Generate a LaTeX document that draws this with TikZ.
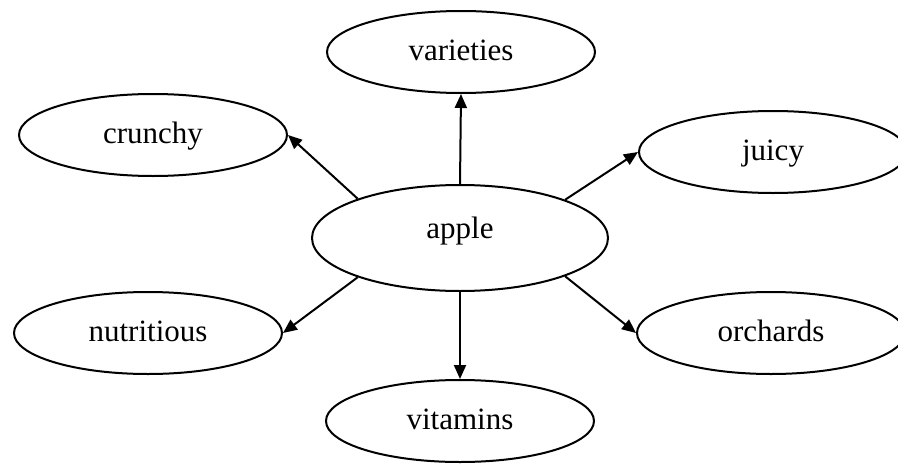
\documentclass[tikz,border=0pt]{standalone}
\usepackage{fontspec}
\setmainfont{Liberation Serif}
\usetikzlibrary{shapes.geometric,arrows.meta}
\begin{document}
\begin{tikzpicture}[x=1pt,y=-1pt,
  bub/.style={draw,ellipse,line width=2pt,minimum width=268pt,minimum height=82pt,inner sep=0pt,text height=22pt,text depth=6pt,font=\fontsize{31}{37}\selectfont},
  arr/.style={line width=2pt,-{Triangle[length=14pt,width=12pt]}}]
\useasboundingbox (0,0) rectangle (898,466);
\clip (0,0) rectangle (898,466);
\node[bub,minimum width=296pt,minimum height=106pt,text height=12pt,text depth=12pt] (apple) at (460,238) {apple};
\node[bub] (varieties) at (461,52) {varieties};
\node[bub] (crunchy) at (153,135) {crunchy};
\node[bub] (juicy) at (773,152) {juicy};
\node[bub] (nutritious) at (148,333) {nutritious};
\node[bub] (orchards) at (771,333) {orchards};
\node[bub] (vitamins) at (460,421) {vitamins};
\draw[arr] (apple.north) -- (varieties.south);
\draw[arr] (apple.159) -- (crunchy.east);
\draw[arr] (apple.20) -- (juicy.west);
\draw[arr] (apple.201) -- (nutritious.east);
\draw[arr] (apple.340) -- (orchards.west);
\draw[arr] (apple.south) -- (vitamins.north);
\end{tikzpicture}
\end{document}
